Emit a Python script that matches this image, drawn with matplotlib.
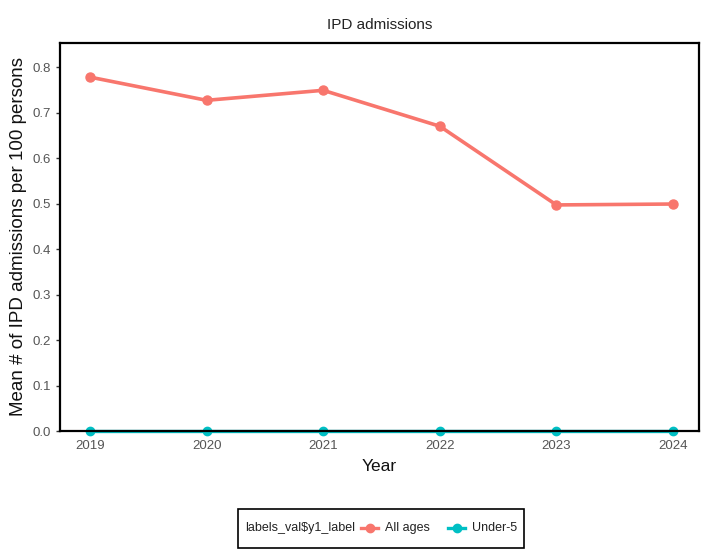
import matplotlib
matplotlib.use("Agg")
import matplotlib.pyplot as plt
from matplotlib.lines import Line2D
from matplotlib.patches import Rectangle

plt.rcParams['font.family'] = ['Liberation Sans', 'DejaVu Sans']

years = [2019, 2020, 2021, 2022, 2023, 2024]
all_ages = [0.778, 0.727, 0.749, 0.670, 0.497, 0.499]
under5 = [0.0, 0.0, 0.0, 0.0, 0.0, 0.0]
yticks = [0.0, 0.1, 0.2, 0.3, 0.4, 0.5, 0.6, 0.7, 0.8]
series_names = ["All ages", "Under-5"]
legend_title = "labels_val$y1_label"
colors = ["#F8766D", "#00BFC4"]

W, H = 701, 557
fig = plt.figure(figsize=(W/100, H/100), dpi=100)
ax = fig.add_axes([60/W, 1-431/H, 639/W, 388/H])

ax.plot(years, all_ages, color=colors[0], lw=2.6, marker='o', ms=6.5, zorder=3)
ax.plot(years, under5, color=colors[1], lw=2.4, marker='o', ms=6, zorder=3, clip_on=False)

ax.set_xlim(2018.743, 2024.223)
ax.set_ylim(0, 0.853)
ax.set_xticks(years)
ax.set_xticklabels([str(y) for y in years])
ax.set_yticks(yticks)
ax.set_yticklabels([f"{v:.1f}" for v in yticks])
ax.tick_params(axis='both', colors='#333333', labelcolor='#555555', labelsize=9.5, length=3, width=1)

for s in ax.spines.values():
    s.set_linewidth(1.6)
    s.set_color('black')
    s.set_zorder(5)

ax.set_title("IPD admissions", fontsize=11, pad=10, color='#222222')
ax.set_xlabel("Year", fontsize=12.5, labelpad=5, color='#111111')
ax.set_ylabel("Mean # of IPD admissions per 100 persons", fontsize=13.5, labelpad=4, color='#111111')

# legend (drawn manually in figure coordinates)
lx0, lx1, ly0, ly1 = 238, 524, 509, 548
fig.patches.append(Rectangle((lx0/W, 1-ly1/H), (lx1-lx0)/W, (ly1-ly0)/H,
                             transform=fig.transFigure, fill=False, ec='black', lw=1.2))
yc = 1 - 528/H
fig.text(245/W, yc, legend_title, fontsize=9, va='center', ha='left', color='#222222')
entries = [(361, 378, 385, series_names[0], colors[0]), (448, 465, 472, series_names[1], colors[1])]
for xa, xb, xt, name, c in entries:
    fig.lines.append(Line2D([xa/W, xb/W], [yc, yc], transform=fig.transFigure, color=c, lw=2.4))
    fig.lines.append(Line2D([(xa+xb)/2/W], [yc], transform=fig.transFigure, color=c,
                            marker='o', ms=6, lw=0))
    fig.text(xt/W, yc, name, fontsize=9, va='center', ha='left', color='#222222')

fig.savefig("out.png", dpi=100)
